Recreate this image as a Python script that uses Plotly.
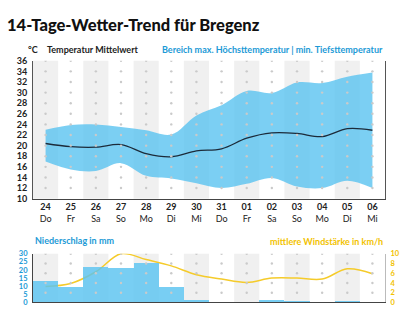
import plotly.graph_objects as go

days = ["24", "25", "26", "27", "28", "29", "30", "31", "01", "02", "03", "04", "05", "06"]
weekdays = ["Do", "Fr", "Sa", "So", "Mo", "Di", "Mi", "Do", "Fr", "Sa", "So", "Mo", "Di", "Mi"]
t_max = [23.0, 23.9, 24.0, 23.5, 22.9, 22.1, 25.7, 27.6, 30.3, 29.9, 31.9, 31.8, 33.0, 33.8]
t_mean = [20.4, 19.8, 19.7, 20.2, 18.5, 17.9, 19.0, 19.4, 21.4, 22.4, 22.3, 21.7, 23.2, 22.9]
t_min = [17.0, 15.5, 15.2, 16.7, 14.3, 13.8, 12.9, 12.0, 12.8, 13.9, 12.3, 12.0, 13.4, 12.0]
precip = [13.3, 9.8, 22.3, 21.6, 24.6, 9.8, 1.6, 0, 0, 1.5, 1.0, 0.7, 1.1, 0]
wind = [3.3, 3.9, 6.3, 10.0, 8.8, 7.5, 5.7, 4.8, 4.1, 5.0, 5.0, 4.8, 6.9, 5.9]

W, H = 408, 321
def px(x): return x / W
def py(y): return 1 - y / H

BAND = "rgba(90,195,240,0.8)"
BLUE_TXT = "#1c9ad6"
YEL = "#f5cb2a"
YEL_TXT = "#f2c200"
DARK = "#1c2b3a"
FONT = "Lato"

n = len(days)
xs = list(range(n))
ticktext = [f"<b>{d}</b><br>{w}" for d, w in zip(days, weekdays)]

fig = go.Figure()

# Top chart: band
fig.add_trace(go.Scatter(x=xs, y=t_min, mode="lines", line=dict(width=0, shape="spline"),
                         hoverinfo="skip", showlegend=False, xaxis="x", yaxis="y"))
fig.add_trace(go.Scatter(x=xs, y=t_max, mode="lines", line=dict(width=0, shape="spline"),
                         fill="tonexty", fillcolor=BAND, showlegend=False, xaxis="x", yaxis="y"))
fig.add_trace(go.Scatter(x=xs, y=t_mean, mode="lines", line=dict(color=DARK, width=1.3, shape="spline"),
                         showlegend=False, xaxis="x", yaxis="y"))
# grid dots top
top_levels = list(range(12, 37, 2))
dx, dy = [], []
for i in xs:
    for lv in top_levels:
        dx.append(i); dy.append(lv)
fig.add_trace(go.Scatter(x=dx, y=dy, mode="markers", marker=dict(color="#cacaca", size=2.4),
                         hoverinfo="skip", showlegend=False, xaxis="x", yaxis="y"))

# Bottom chart: wind line (under bars)
fig.add_trace(go.Scatter(x=xs, y=wind, mode="lines", line=dict(color=YEL, width=1.5, shape="spline"),
                         showlegend=False, xaxis="x2", yaxis="y2"))
# precipitation bars
fig.add_trace(go.Bar(x=xs, y=precip, width=1.0, marker=dict(color="rgba(90,195,240,0.82)", line=dict(width=0)),
                     showlegend=False, xaxis="x2", yaxis="y3"))
# grid dots bottom (at right-axis levels 2..10 -> left units)
bot_levels = [6, 12, 18, 24, 30]
bx, by = [], []
for i in xs:
    for lv in bot_levels:
        bx.append(i); by.append(lv)
fig.add_trace(go.Scatter(x=bx, y=by, mode="markers", marker=dict(color="#cacaca", size=2.4),
                         hoverinfo="skip", showlegend=False, xaxis="x2", yaxis="y3"))

shapes = []
for i in xs:
    if i % 2 == 0:
        shapes.append(dict(type="rect", xref="x", yref="y domain", x0=i - 0.5, x1=i + 0.5, y0=0, y1=1,
                           fillcolor="#f0f0f0", line=dict(width=0), layer="below"))
        shapes.append(dict(type="rect", xref="x2", yref="y2 domain", x0=i - 0.5, x1=i + 0.5, y0=0, y1=1,
                           fillcolor="#f0f0f0", line=dict(width=0), layer="below"))

xdom = [px(33), px(385)]
common_x = dict(domain=xdom, range=[-0.5, n - 0.5], showgrid=False, zeroline=False, ticks="",
                fixedrange=True)

fig.update_layout(
    width=W, height=H, margin=dict(l=0, r=0, t=0, b=0),
    paper_bgcolor="white", plot_bgcolor="white",
    font=dict(family=FONT, size=9, color="#222"),
    shapes=shapes,
    bargap=0,
    xaxis=dict(**common_x, anchor="y", tickvals=xs, ticktext=ticktext, showline=True,
               linecolor="#444", linewidth=1, tickfont=dict(size=9, color="#222")),
    yaxis=dict(domain=[py(199.5), py(56.7)], range=[10, 36], dtick=2, tick0=10, showgrid=False,
               zeroline=False, showline=True, mirror=True, linecolor="#555", linewidth=1, ticks="",
               tickfont=dict(size=9, color="#222", weight="bold"), ticklabelstandoff=3),
    xaxis2=dict(**common_x, anchor="y2", showticklabels=False, showline=True, linecolor="#444", linewidth=1),
    yaxis2=dict(domain=[py(307), py(256.5)], range=[0, 10], dtick=2, side="right", anchor="x2",
                showgrid=False, zeroline=False, showline=True, linecolor="#bbb", ticks="",
                tickfont=dict(size=7.5, color=YEL_TXT, weight="bold"), ticklabelstandoff=3),
    yaxis3=dict(range=[0, 30], dtick=5, side="left", anchor="x2", overlaying="y2",
                showgrid=False, zeroline=False, showline=True, linecolor="#444", ticks="",
                tickfont=dict(size=7.5, color=BLUE_TXT, weight="bold"), ticklabelstandoff=3),
)

ann = [
    dict(text="14-Tage-Wetter-Trend für Bregenz", x=px(5), y=py(20), xanchor="left", yanchor="middle",
         font=dict(family="Lato", size=16.5, color="#111", weight=900)),
    dict(text="<b>°C</b>", x=px(40), y=py(45), xanchor="right", yanchor="middle",
         font=dict(size=9, color="#222")),
    dict(text="<b>Temperatur Mittelwert</b>", x=px(45), y=py(45), xanchor="left", yanchor="middle",
         font=dict(size=9, color="#222")),
    dict(text="<b>Bereich max. Höchsttemperatur | min. Tiefsttemperatur</b>", x=px(385), y=py(45),
         xanchor="right", yanchor="middle", font=dict(size=9, color=BLUE_TXT)),
    dict(text="<b>Niederschlag in mm</b>", x=px(33), y=py(243), xanchor="left", yanchor="middle",
         font=dict(size=9, color=BLUE_TXT)),
    dict(text="<b>mittlere Windstärke in km/h</b>", x=px(385), y=py(244), xanchor="right", yanchor="middle",
         font=dict(size=9, color=YEL_TXT)),
]
for a in ann:
    a.update(xref="paper", yref="paper", showarrow=False)
fig.update_layout(annotations=ann)

fig.write_html("out.html")
